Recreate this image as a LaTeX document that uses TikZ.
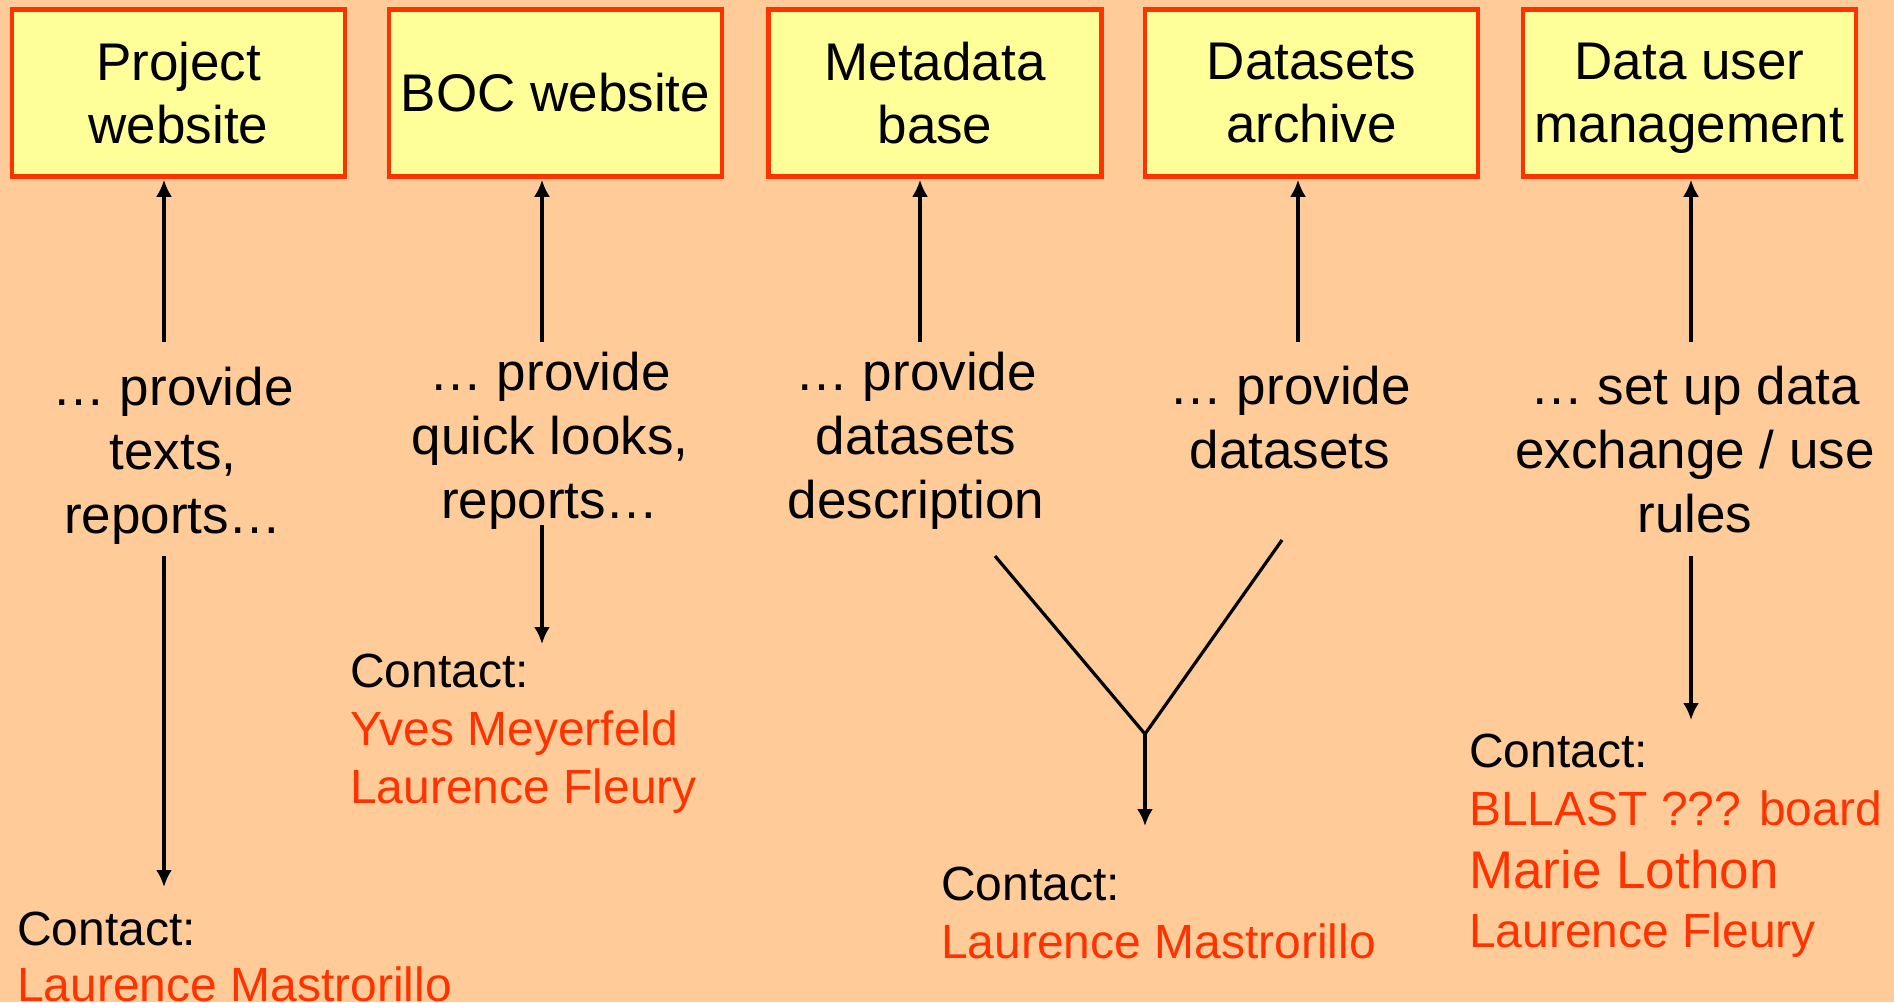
\documentclass[tikz,border=0pt]{standalone}
\usepackage{fontspec}
\setmainfont{Liberation Sans}
\usetikzlibrary{arrows.meta}
\definecolor{bg}{HTML}{FFCC99}
\definecolor{boxfill}{HTML}{FFFF99}
\definecolor{redline}{HTML}{FF3300}
\begin{document}
\begin{tikzpicture}[x=1pt,y=-1pt,
  box/.style={draw=redline, line width=4.5pt, fill=boxfill, minimum width=333pt, minimum height=167pt, inner sep=0pt, align=center, font=\fontsize{53}{63}\selectfont},
  mid/.style={align=center, inner sep=0pt, font=\fontsize{53}{64}\selectfont},
  cline/.style={anchor=base west, inner sep=0pt, font=\fontsize{48}{58}\selectfont},
  pname/.style={cline, text=redline},
  conn/.style={line width=3.2pt, -{Latex[length=17pt,width=16pt]}},
  plain/.style={line width=3.2pt}]
\fill[bg] (0,0) rectangle (1894,1002);
\useasboundingbox (0,0) rectangle (1894,1002);

% boxes
\node[box] (b1) at (178.5,93) {Project\\website};
\node[box] (b2) at (555.5,93) {BOC website};
\node[box] (b3) at (935,93) {Metadata\\base};
\node[box] (b4) at (1311.5,93) {Datasets\\archive};
\node[box] (b5) at (1689.5,93) {Data user\\\raisebox{0pt}[\height][0pt]{management}};

% middle texts
\node[mid] (t1) at (173,456) {… provide\\texts,\\reports…};
\node[mid] (t2) at (550,441) {… provide\\quick looks,\\reports…};
\node[mid] (t3) at (916,441) {… provide\\datasets\\description};
\node[mid] (t4) at (1290,418) {… provide\\datasets};
\node[mid] (t5) at (1695,450) {… set up data\\exchange / use\\rules};

% up arrows
\coordinate (u1) at (164,342);
\coordinate (u2) at (542,342);
\coordinate (u3) at (920,342);
\coordinate (u4) at (1298,342);
\coordinate (u5) at (1691,342);
\draw[conn] (u1) -- ([yshift=-1pt]u1 |- b1.south);
\draw[conn] (u2) -- ([yshift=-1pt]u2 |- b2.south);
\draw[conn] (u3) -- ([yshift=-1pt]u3 |- b3.south);
\draw[conn] (u4) -- ([yshift=-1pt]u4 |- b4.south);
\draw[conn] (u5) -- ([yshift=-1pt]u5 |- b5.south);

% contacts
\node[cline] (c1a) at (17,945) {Contact:};
\node[pname] (c1b) at (17,1001) {Laurence Mastrorillo};
\node[cline] (c2a) at (350,687) {Contact:};
\node[pname] (c2b) at (350,745) {Yves Meyerfeld};
\node[pname] (c2c) at (350,803) {Laurence Fleury};
\node[cline] (c3a) at (941,900) {Contact:};
\node[pname] (c3b) at (941,958) {Laurence Mastrorillo};
\node[cline] (c4a) at (1469,767) {Contact:};
\node[pname] (c4b) at (1469,825) {BLLAST ??? board};
\node[pname, font=\fontsize{53}{63}\selectfont] (c4c) at (1469,888) {Marie Lothon};
\node[pname] (c4d) at (1469,947) {Laurence Fleury};

% down arrows
\coordinate (d1s) at (164,556);
\coordinate (d1e) at (164,887);
\coordinate (d2s) at (542,525);
\coordinate (d2e) at (542,644);
\coordinate (d5s) at (1691,556);
\coordinate (d5e) at (1691,720);
\draw[conn] (d1s) -- (d1e);
\draw[conn] (d2s) -- (d2e);
\draw[conn] (d5s) -- (d5e);

% Y join
\coordinate (ya) at (995,556);
\coordinate (yb) at (1282,540);
\coordinate (yj) at (1145,734);
\coordinate (ye) at (1145,826);
\draw[plain] (ya) -- (yj) -- (yb);
\draw[conn] (yj) -- (ye);
\end{tikzpicture}
\end{document}
